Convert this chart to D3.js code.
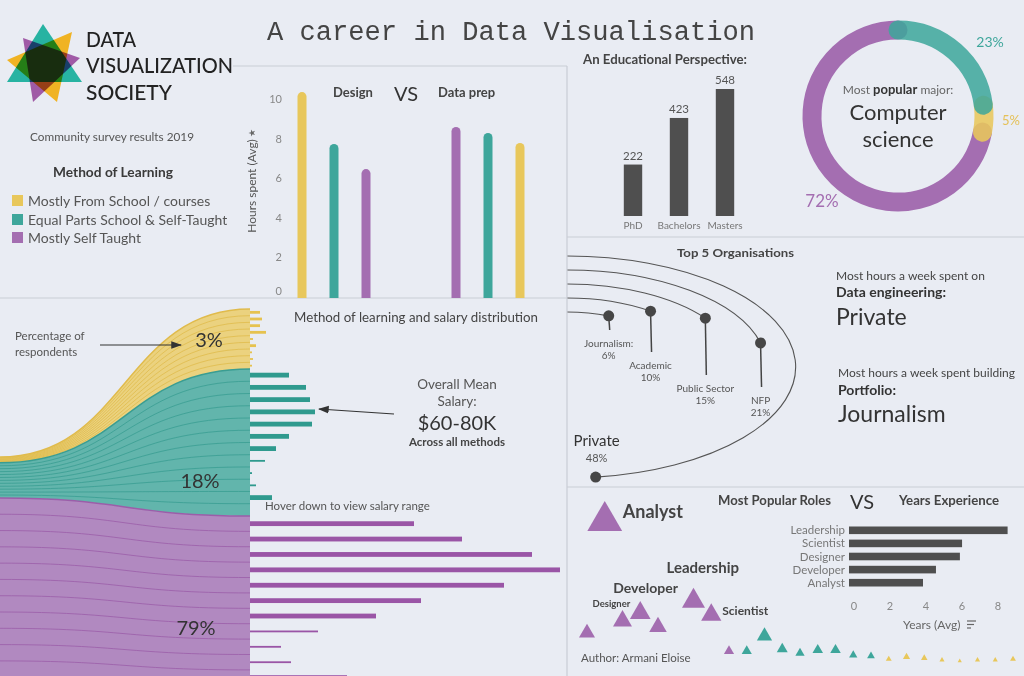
<!DOCTYPE html>
<html><head><meta charset="utf-8">
<script src="https://cdnjs.cloudflare.com/ajax/libs/d3/7.8.5/d3.min.js"></script>
<style>
html,body{margin:0;padding:0;background:#e9ecf3;}
svg{display:block;font-family:Lato,"Open Sans",sans-serif;}
</style></head><body>
<svg id="c" width="1024" height="676"></svg>
<script>
// ===== DATA =====
const methods = ["Mostly From School / courses","Equal Parts School & Self-Taught","Mostly Self Taught"];
const methodColors = ["#e8c75b","#3ea69b","#a46eb1"];
const methodPct = [3,18,79];

const hoursTasks = ["Design","Data prep"];
const designHours = [10.35, 7.73, 6.46];   // school, equal, self
const dataPrepHours = [7.78, 8.28, 8.59];
const hoursTicks = [0,2,4,6,8,10];

const eduLevels = ["PhD","Bachelors","Masters"];
const eduCounts = [222,423,548];

const majorMethod = [1,0,2];      // teal, yellow, purple around the ring
const majorShare = [23,5,72];

const schoolSalaryBins = [5,6,5,8,1.5,3,1,1.5,1];
const equalSalaryBins = [19.5,28,30,32.5,31,19.5,13,7.5,1,3,11,0];
const selfSalaryBins = [82,106,141,155,127,85.5,63,34,15.5,20.5,48.5];

const orgs = ["Private","NFP","Public Sector","Academic","Journalism"];
const orgPct = [48,21,15,10,6];

const roles = ["Leadership","Scientist","Designer","Developer","Analyst"];
const roleYears = [8.7,6.17,6.05,4.72,4.0];
const yearTicks = [0,2,4,6,8];

const roleTriMethod = [2,2,2,2,2,2,2,2,2,1,1,1,1,1,1,1,1,0,0,0,0,0,0,0,0];
const roleTriCount  = [60,284,84,100,72,0,124,96,24,24,54,28,20,26,26,16,14,8,12,10,6,4,6,6,8];
const roleTriName   = {1:"Analyst",2:"Designer",3:"Developer",6:"Leadership",7:"Scientist"};

// ===== LAYOUT =====
const svg = d3.select("#c");
const BG = "#e9ecf3", SEP = "#c9cdd6", DARK = "#4f4f4f";
svg.append("rect").attr("width",1024).attr("height",676).attr("fill",BG);
const defs = svg.append("defs");
function clip(id,x,y,w,h){defs.append("clipPath").attr("id",id).append("rect").attr("x",x).attr("y",y).attr("width",w).attr("height",h);}
clip("cTop",0,66,567,232); clip("cFlow",0,298.5,567,378); clip("cOrb",567.5,237.5,457,249);
defs.append("marker").attr("id","arr").attr("viewBox","0 0 10 10").attr("refX",9).attr("refY",5)
  .attr("markerWidth",9).attr("markerHeight",9).attr("orient","auto")
  .append("path").attr("d","M0,1.5L10,5L0,8.5Z").attr("fill","#333");

function txt(g,x,y,s,o){o=o||{};const t=g.append("text").attr("x",x).attr("y",y).text(s)
  .attr("font-size",o.size||12).attr("fill",o.fill||"#555").attr("font-weight",o.weight||400)
  .attr("text-anchor",o.anchor||"start");
  if(o.family) t.attr("font-family",o.family);
  if(o.len) t.attr("textLength",o.len).attr("lengthAdjust","spacingAndGlyphs");
  return t;}

// separators
[[233,66,567,66],[567,66,567,676],[0,298,567,298],[567,237,1024,237],[567,487,1024,487]].forEach(l=>
  svg.append("line").attr("x1",l[0]).attr("y1",l[1]).attr("x2",l[2]).attr("y2",l[3]).attr("stroke",SEP).attr("stroke-width",1.2));

// ===== Logo =====
const logo = svg.append("g").style("isolation","isolate");
[["#f0b323",[[72,32],[57,102],[7,60]]],["#27b3a2",[[43,24],[82,82],[7,82]]],["#a05aa6",[[23,38],[80,58],[33,102]]]]
 .forEach(([c,pts])=>logo.append("path").attr("d",d3.line()(pts)+"Z").attr("fill",c).style("mix-blend-mode","multiply"));
txt(svg,86,47,"DATA",{size:21,fill:"#222",weight:500,len:50});
txt(svg,86,73,"VISUALIZATION",{size:21,fill:"#222",weight:500,len:147});
txt(svg,86,100,"SOCIETY",{size:21,fill:"#222",weight:500,len:86});

txt(svg,267,40,"A career in Data Visualisation",{size:27,fill:"#444",family:"'Courier New','Liberation Mono',monospace",len:488});

txt(svg,30,141,"Community survey results 2019",{size:12,fill:"#555",len:164});
txt(svg,53,177,"Method of Learning",{size:14,fill:"#3a3a3a",weight:700,len:120});
methods.forEach((m,i)=>{
  const y=[201,220,238][i];
  svg.append("rect").attr("x",12).attr("y",y-6).attr("width",11).attr("height",11).attr("fill",methodColors[i]);
  txt(svg,28,y+5,m,{size:14,fill:"#555"});
});

// ===== Hours bar chart =====
const gTop = svg.append("g").attr("clip-path","url(#cTop)");
const yH = d3.scaleLinear().domain([0,10]).range([297,99]);
const xTask = d3.scalePoint().domain(hoursTasks).range([334,488]);
const xSub = d3.scalePoint().domain([0,1,2]).range([-32,32]);
hoursTicks.forEach(t=>txt(svg,282,yH(t)+4-(t===0?6:0),t,{size:11,fill:"#888",anchor:"end"}));
txt(svg,0,0,"Hours spent (Avg)",{size:12,fill:"#555",anchor:"middle"}).attr("transform","translate(256,186) rotate(-90)");
txt(svg,0,0,"★",{size:9,fill:"#666",anchor:"middle",family:"DejaVu Sans"}).attr("transform","translate(255,133) rotate(-90)");
[designHours,dataPrepHours].forEach((vals,gi)=>{
  const order = d3.range(3).sort((a,b)=>vals[b]-vals[a]);
  order.forEach((mi,k)=>{
    const cx = xTask(hoursTasks[gi])+xSub(k);
    gTop.append("rect").attr("x",cx-4.5).attr("width",9).attr("y",yH(vals[mi])).attr("height",yH(0)-yH(vals[mi])+10)
      .attr("rx",4.5).attr("fill",methodColors[mi]);
  });
});
txt(svg,333,97,"Design",{size:13,fill:"#444",weight:700});
txt(svg,394,101,"VS",{size:20,fill:"#333"});
txt(svg,438,97,"Data prep",{size:13,fill:"#444",weight:700});

// ===== Educational perspective =====
txt(svg,583,64,"An Educational Perspective:",{size:13,fill:"#444",weight:700,len:164});
const xE = d3.scaleBand().domain(eduLevels).range([610,748]).paddingInner(0.6).paddingOuter(0.3);
const yE = d3.scaleLinear().domain([0,548]).range([216,89]);
eduLevels.forEach((e,i)=>{
  svg.append("rect").attr("x",xE(e)).attr("width",xE.bandwidth()).attr("y",yE(eduCounts[i])).attr("height",yE(0)-yE(eduCounts[i])).attr("fill",DARK);
  txt(svg,xE(e)+xE.bandwidth()/2,yE(eduCounts[i])-5,eduCounts[i],{size:11.5,fill:"#555",anchor:"middle"});
  txt(svg,xE(e)+xE.bandwidth()/2,229,e,{size:10,fill:"#777",anchor:"middle"});
});

// ===== Donut =====
const dc = [898,116], dr = 86;
const pie = d3.pie().sort(null).value(d=>d)(majorShare);
const drawOrder = [2,1,0];
const ringOpacity = {2:1,1:0.88,0:0.86};
drawOrder.forEach(i=>{
  const a = pie[i], p = d3.path();
  p.arc(dc[0],dc[1],dr,a.startAngle-Math.PI/2,a.endAngle-Math.PI/2,false);
  svg.append("path").attr("d",p.toString()).attr("fill","none").attr("stroke",methodColors[majorMethod[i]])
    .attr("stroke-width",19).attr("stroke-linecap","round").attr("opacity",ringOpacity[i]);
});
const dt = svg.append("text").attr("x",dc[0]).attr("y",94).attr("text-anchor","middle").attr("font-size",12);
dt.append("tspan").text("Most ").attr("fill","#666");
dt.append("tspan").text("popular").attr("fill","#333").attr("font-weight",700).attr("font-size",13);
dt.append("tspan").text(" major:").attr("fill","#666");
txt(svg,dc[0],120,"Computer",{size:22,fill:"#333",anchor:"middle"});
txt(svg,dc[0],147,"science",{size:22,fill:"#333",anchor:"middle"});
txt(svg,990,47,majorShare[0]+"%",{size:14,fill:"#3ea69b",anchor:"middle"});
txt(svg,1011,125,majorShare[1]+"%",{size:13,fill:"#e5c158",anchor:"middle"});
txt(svg,822,207,majorShare[2]+"%",{size:17,fill:"#a46eb1",anchor:"middle"});

// ===== Orbit: Top 5 organisations =====
txt(svg,677,257,"Top 5 Organisations",{size:12,fill:"#444",weight:700,len:117});
const oc = [567,367], ecc = 2.06;
const ringR = d3.scalePoint().domain(orgs).range([111,55]);
const ang = d3.scaleLinear().domain([0,100]).range([0,2*Math.PI]);
const gO = svg.append("g").attr("clip-path","url(#cOrb)");
const gE = gO.append("g").attr("transform",`translate(${oc[0]},${oc[1]}) scale(${ecc},1)`);
const labelY = {"NFP":404,"Public Sector":392,"Academic":369,"Journalism":347};
orgs.forEach((o,i)=>{
  const r = ringR(o), th = ang(orgPct[i]);
  const p = d3.path(); p.arc(0,0,r,-Math.PI/2,-Math.PI/2+th,false);
  gE.append("path").attr("d",p.toString()).attr("fill","none").attr("stroke","#555").attr("stroke-width",1.1).attr("vector-effect","non-scaling-stroke");
  const dx = oc[0]+ecc*r*Math.sin(th), dy = oc[1]-r*Math.cos(th);
  if(o!=="Private"){
    svg.append("line").attr("x1",dx).attr("y1",dy).attr("x2",dx+1).attr("y2",labelY[o]-17).attr("stroke","#444").attr("stroke-width",1.5);
    txt(svg,dx,labelY[o],o+(o==="Journalism"?":":""),{size:10,fill:"#555",anchor:"middle"});
    txt(svg,dx,labelY[o]+12,orgPct[i]+"%",{size:10,fill:"#555",anchor:"middle"});
  } else {
    txt(svg,dx+1,446,o,{size:15,fill:"#333",anchor:"middle"});
    txt(svg,dx+1,462,orgPct[i]+"%",{size:11,fill:"#555",anchor:"middle"});
  }
  svg.append("circle").attr("cx",dx).attr("cy",dy).attr("r",5.5).attr("fill","#464646");
});
txt(svg,836,280,"Most hours a week spent on",{size:12,fill:"#444"});
txt(svg,836,297,"Data engineering:",{size:14,fill:"#333",weight:700});
txt(svg,836,325,"Private",{size:23,fill:"#333"});
txt(svg,838,377,"Most hours a week spent building",{size:12,fill:"#444"});
txt(svg,838,395,"Portfolio:",{size:14,fill:"#333",weight:700});
txt(svg,838,422,"Journalism",{size:23,fill:"#333"});

// ===== Flow / salary distribution =====
const gF = svg.append("g").attr("clip-path","url(#cFlow)");
const fx0 = 0, fx1 = 250;
const flowRows = [9,12,20];
const bins = [schoolSalaryBins,equalSalaryBins,selfSalaryBins];
const leftScale = d3.scaleLinear().domain([0,100]).range([0,195]);
const rightScale = d3.scaleSqrt().domain([0,100]).range([0,346.4]);
const fillCols = ["#ebd27f","#62b5ac","#b189c0"], lineCols = ["#e0bb4c","#3a9d92","#9b5ea9"], barCols = ["#e6c24f","#2f9a8e","#9a55a6"];
let lAcc = 457, rAcc = 309;
const bands = methodPct.map((p,i)=>{
  const b = {lTop:lAcc, lBot:lAcc+leftScale(p), rTop:rAcc, rBot:rAcc+rightScale(p)};
  lAcc = b.lBot; rAcc = b.rBot; return b;
});
bands[2].lBot = bands[2].rBot;
const area = d3.area().x(d=>d.x).y0(d=>d.y0).y1(d=>d.y1).curve(d3.curveBumpX);
const link = d3.line().x(d=>d.x).y(d=>d.y).curve(d3.curveBumpX);
const xSal = d3.scaleLinear().domain([0,155]).range([fx1,560]);
bands.forEach((b,i)=>{
  gF.append("path").attr("d",area([{x:fx0,y0:b.lTop,y1:b.lBot},{x:fx1,y0:b.rTop,y1:b.rBot}])).attr("fill",fillCols[i]);
  const n = flowRows[i];
  for(let k=1;k<n;k++){
    const ly = b.lTop+(b.lBot-b.lTop)*k/n, ry = b.rTop+(b.rBot-b.rTop)*k/n;
    gF.append("path").attr("d",link([{x:fx0,y:ly},{x:fx1,y:ry}])).attr("fill","none").attr("stroke",lineCols[i]).attr("stroke-width",1).attr("opacity",0.8);
  }
  gF.append("path").attr("d",link([{x:fx0,y:b.lTop},{x:fx1,y:b.rTop}])).attr("fill","none").attr("stroke",lineCols[i]).attr("stroke-width",1.5);
  const rowH = (b.rBot-b.rTop)/n, mx = d3.max(bins[i]);
  const thick = Math.min(4.8,rowH*0.42);
  bins[i].forEach((v,j)=>{
    if(v<=0) return;
    const h = v/mx>=0.28 ? thick : 1.8;
    gF.append("rect").attr("x",fx1).attr("y",b.rTop+(j+0.5)*rowH-h/2).attr("width",xSal(v)-fx1).attr("height",h).attr("fill",barCols[i]);
  });
});
txt(svg,294,322,"Method of learning and salary distribution",{size:13,fill:"#444",len:244});
txt(svg,15,340,"Percentage of",{size:11.5,fill:"#555"});
txt(svg,15,356,"respondents",{size:11.5,fill:"#555"});
svg.append("line").attr("x1",100).attr("y1",345).attr("x2",181).attr("y2",345).attr("stroke","#333").attr("stroke-width",1.2).attr("marker-end","url(#arr)");
txt(svg,209,347,methodPct[0]+"%",{size:20,fill:"#333",anchor:"middle"});
txt(svg,200,488,methodPct[1]+"%",{size:20,fill:"#333",anchor:"middle"});
txt(svg,196,635,methodPct[2]+"%",{size:20,fill:"#333",anchor:"middle"});
txt(svg,457,389,"Overall Mean",{size:13.5,fill:"#555",anchor:"middle"});
txt(svg,457,406,"Salary:",{size:13.5,fill:"#555",anchor:"middle"});
txt(svg,457,430,"$60-80K",{size:20,fill:"#333",anchor:"middle"});
txt(svg,457,446,"Across all methods",{size:11.5,fill:"#444",anchor:"middle",weight:700});
svg.append("line").attr("x1",394).attr("y1",414).attr("x2",319).attr("y2",409).attr("stroke","#333").attr("stroke-width",1.2).attr("marker-end","url(#arr)");
txt(svg,265,510,"Hover down to view salary range",{size:11.5,fill:"#555"});

// ===== Roles vs years =====
txt(svg,718,505,"Most Popular Roles",{size:13,fill:"#444",weight:700,len:113});
txt(svg,850,509,"VS",{size:20,fill:"#333"});
txt(svg,899,505,"Years Experience",{size:13,fill:"#444",weight:700,len:100});
const yR = d3.scaleBand().domain(roles).range([521,592]).padding(0.42);
const xR = d3.scaleLinear().domain([0,8]).range([851,995]);
roles.forEach((r,i)=>{
  svg.append("rect").attr("x",xR(0)-2).attr("y",yR(r)).attr("width",xR(roleYears[i])-xR(0)+2).attr("height",yR.bandwidth()).attr("fill",DARK);
  txt(svg,845,yR(r)+yR.bandwidth()/2+4,r,{size:11.5,fill:"#777",anchor:"end"});
});
yearTicks.forEach(t=>txt(svg,xR(t)+3,610,t,{size:11,fill:"#888",anchor:"middle"}));
txt(svg,903,629,"Years (Avg)",{size:12,fill:"#666"});
[[967,976,621],[967,974,624.5],[967,971,628]].forEach(l=>svg.append("line").attr("x1",l[0]).attr("x2",l[1]).attr("y1",l[2]).attr("y2",l[2]).attr("stroke","#666").attr("stroke-width",1.2));

const triX = d3.scaleLinear().domain([0,24]).range([587,1013]);
const triY = d3.scaleLinear().domain([0,300]).range([663,513]);
const triSize = d3.scaleLinear().domain([0,300]).range([0,555]);
roleTriCount.forEach((v,i)=>{
  if(v<=0) return;
  svg.append("path").attr("d",d3.symbol(d3.symbolTriangle,triSize(v))())
    .attr("transform",`translate(${triX(i)},${triY(v)})`).attr("fill",methodColors[roleTriMethod[i]]);
});
const triLab = {1:[18,-3,18],2:[-30,-14,9.5],3:[-27,-20,14],6:[-27,-28,15],7:[11,0,12]};
Object.keys(roleTriName).forEach(k=>{
  const i=+k, o=triLab[i];
  txt(svg,triX(i)+o[0],triY(roleTriCount[i])+o[1],roleTriName[i],{size:o[2],fill:"#444",weight:700});
});
txt(svg,581,662,"Author: Armani Eloise",{size:11.5,fill:"#555"});
</script></body></html>
